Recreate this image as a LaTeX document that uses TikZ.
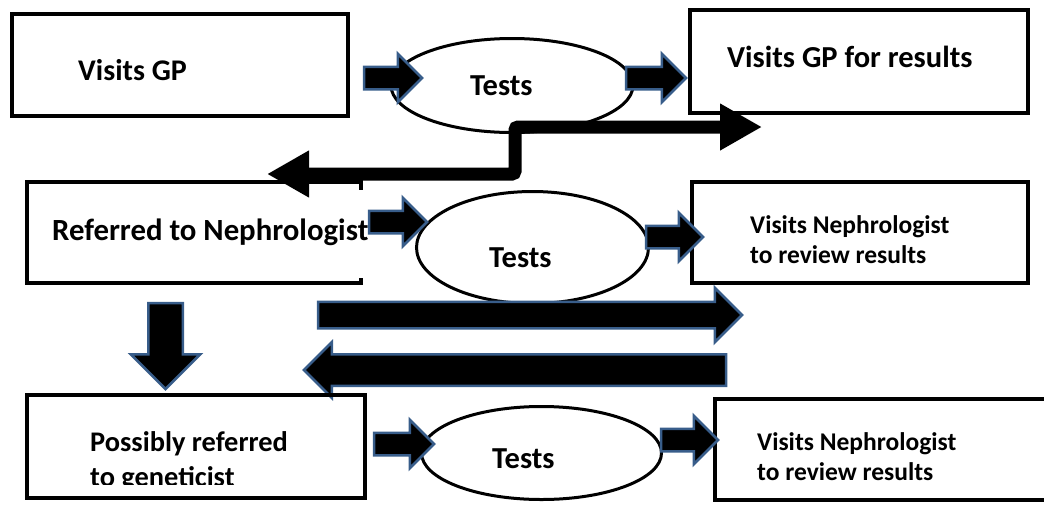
\documentclass[tikz,border=0pt]{standalone}
\usepackage{fontspec}
\setmainfont{Carlito}
\usetikzlibrary{shapes,shapes.arrows,arrows.meta,positioning,calc}
\definecolor{flowblue}{RGB}{56,93,138}
\tikzset{
    stage/.style={draw=black, line width=3.5pt, inner sep=0pt, outer sep=0pt},
    tests/.style={draw=black, ellipse, line width=3pt, inner sep=0pt},
    flowarrow/.style={single arrow, draw=flowblue, fill=black, line width=2.5pt,
        inner xsep=0pt, outer sep=0pt, minimum width=0pt, single arrow tip angle=90},
    smallflow/.style={flowarrow, inner ysep=10pt, single arrow head extend=13pt},
    bigflow/.style={flowarrow, inner ysep=12pt, single arrow head extend=14pt},
    bent/.style={draw=black, line width=13pt, rounded corners=3pt,
        {Triangle[length=42pt,width=44pt]}-{Triangle[length=42pt,width=44pt]}},
    txt/.style={inner sep=0pt, align=left, anchor=base west},
}

\begin{document}
\begin{tikzpicture}[x=1pt, y=-1pt]

\useasboundingbox (0,0) rectangle (1044,504);
\clip (0,0) rectangle (1044,504);

		% first row
		\node[stage, minimum width=336pt, minimum height=102pt] (gp) at (180,65) {};
		\node[tests, minimum width=242pt, minimum height=94pt] (tests1) at (512,85.5) {};
		\node[stage, minimum width=338pt, minimum height=103pt] (gpres) at (859,61.5) {};
		\node[txt, font=\bfseries\fontsize{30}{35}\selectfont] (gptxt) at (78,80) {Visits GP};
		\node[txt, font=\bfseries\fontsize{30.5}{35}\selectfont] (tests1txt) at (470,95) {Tests};
		\node[txt, font=\bfseries\fontsize{30.5}{35}\selectfont] (gprestxt) at (727,67) {Visits GP for results};
		\node[smallflow, anchor=tail, minimum height=58pt] (a1) at (364,78) {};
		\node[smallflow, anchor=tail, minimum height=60pt] (a2) at (626,78) {};

		% second row
		\node[stage, minimum width=334pt, minimum height=101pt] (refn) at (194,232.5) {};
		\fill[white] ($(refn.north east)+(-4,8)$) rectangle ($(refn.south east)+(4,-5)$);
		\node[tests, minimum width=232pt, minimum height=112pt] (tests2) at (532.5,247.5) {};
		\node[stage, minimum width=336pt, minimum height=101pt] (nephres) at (860,232.5) {};
		\node[txt, font=\bfseries\fontsize{30.8}{36}\selectfont] (refntxt) at (52,240) {Referred to Nephrologist};
		\node[txt, font=\bfseries\fontsize{30.5}{35}\selectfont] (tests2txt) at (489,267) {Tests};
		\node[txt, font=\bfseries\fontsize{25.5}{30}\selectfont] (nephrestxt) at (750,263) {Visits Nephrologist\\to review results};
		\node[smallflow, anchor=tail, minimum height=58pt] (a3) at (369,222) {};
		\node[smallflow, anchor=tail, minimum height=57pt] (a4) at (646,237) {};

		% between the rows
		\coordinate (bentL) at (267,174);
		\coordinate (bend) at (515,127);
		\coordinate (bentR) at (762,127);
		\draw[bent] (bentL) -| (bend) -- (bentR);
		\node[bigflow, anchor=tail, minimum height=424pt] (b1) at (318,315) {};
		\node[bigflow, anchor=tail, rotate=180, minimum height=422pt,
			inner ysep=14.5pt, single arrow head extend=12pt] (b2) at (726,370) {};
		\node[bigflow, anchor=tail, rotate=-90, minimum height=86pt,
			inner ysep=16pt, single arrow head extend=17.5pt] (b3) at (165.5,303) {};

		% third row
		\node[stage, minimum width=338pt, minimum height=103pt] (genet) at (196,446.5) {};
		\node[tests, minimum width=240pt, minimum height=93pt] (tests3) at (541.5,453) {};
		\node[stage, minimum width=345pt, minimum height=101pt] (nephres2) at (887.5,449.5) {};
		\begin{scope}
			\clip (27,395) rectangle (365,484);
			\node[txt, font=\bfseries\fontsize{28.4}{35}\selectfont] (genettxt) at (90,486) {Possibly referred\\to geneticist};
		\end{scope}
		\node[txt, font=\bfseries\fontsize{30.5}{35}\selectfont] (tests3txt) at (492,468) {Tests};
		\node[txt, font=\bfseries\fontsize{25.5}{30}\selectfont] (nephres2txt) at (757,480) {Visits Nephrologist\\to review results};
		\node[smallflow, anchor=tail, minimum height=60pt] (a5) at (374,444) {};
		\node[smallflow, anchor=tail, minimum height=57pt] (a6) at (661,440) {};

\end{tikzpicture}
\end{document}
